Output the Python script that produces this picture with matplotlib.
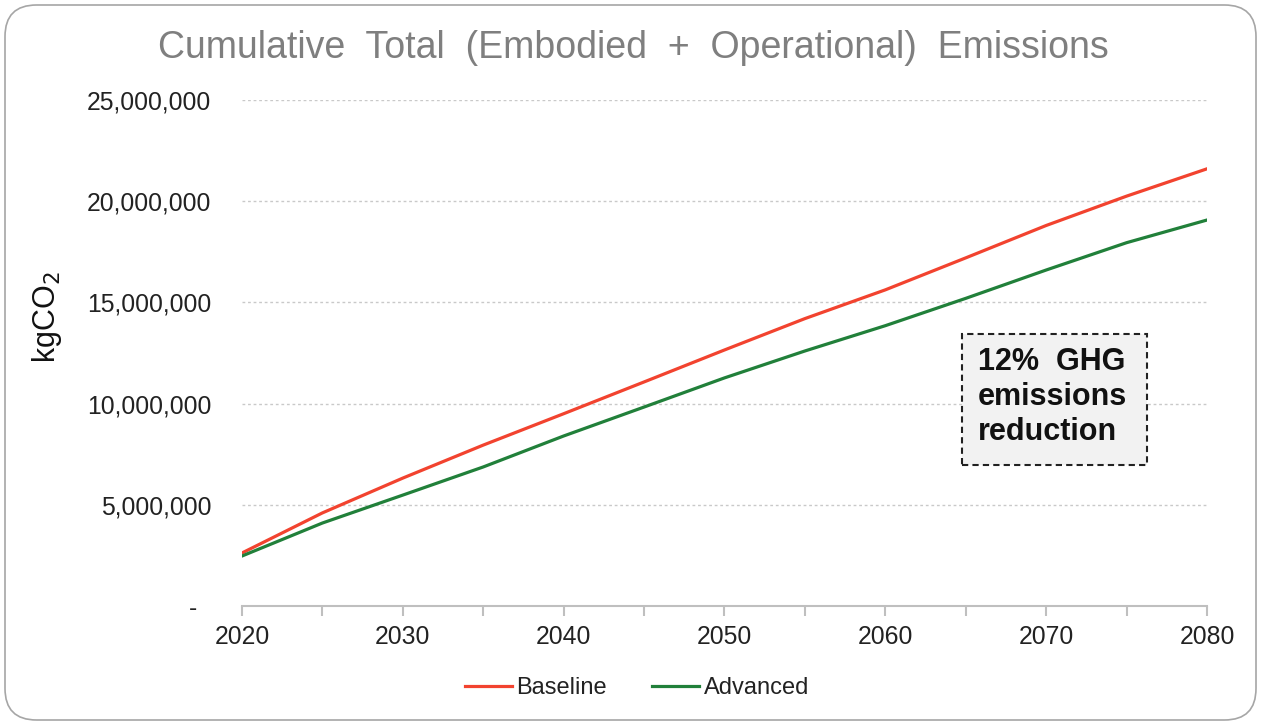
import matplotlib
matplotlib.use("Agg")
import matplotlib.pyplot as plt
from matplotlib.patches import FancyBboxPatch, Rectangle
from matplotlib.ticker import FuncFormatter, MultipleLocator

plt.rcParams['font.family'] = ['Liberation Sans', 'DejaVu Sans']

years = [2020, 2025, 2030, 2035, 2040, 2045, 2050, 2055, 2060, 2065, 2070, 2075, 2080]
baseline = [2.62e6, 4.60e6, 6.32e6, 7.95e6, 9.50e6, 11.07e6, 12.65e6, 14.20e6,
            15.62e6, 17.20e6, 18.80e6, 20.25e6, 21.60e6]
advanced = [2.47e6, 4.10e6, 5.48e6, 6.87e6, 8.40e6, 9.83e6, 11.27e6, 12.60e6,
            13.85e6, 15.20e6, 16.60e6, 17.95e6, 19.07e6]
series_names = ["Baseline", "Advanced"]
title = "Cumulative  Total  (Embodied  +  Operational)  Emissions"
note = "12%  GHG\nemissions\nreduction"

W, H = 1261, 724
fig = plt.figure(figsize=(W / 100, H / 100), dpi=100)
fig.patch.set_facecolor('white')

border = FancyBboxPatch((5 / W, 4 / H), (W - 10) / W, (H - 9) / H,
                        boxstyle="round,pad=0,rounding_size=0.025",
                        transform=fig.transFigure, facecolor='none',
                        edgecolor='#a6a6a6', linewidth=1.2, zorder=-5,
                        mutation_aspect=W / H)
fig.patches.append(border)

ax = fig.add_axes([242 / W, 118 / H, 965 / W, 506 / H])
ax.set_facecolor('none')

ax.plot(years, baseline, color='#f2432f', lw=2.3, label=series_names[0], zorder=3)
ax.plot(years, advanced, color='#21803a', lw=2.3, label=series_names[1], zorder=3)

ax.set_xlim(2020, 2080)
ax.set_ylim(0, 25e6)
ax.yaxis.set_major_locator(MultipleLocator(5e6))
ax.xaxis.set_major_locator(MultipleLocator(10))
ax.xaxis.set_minor_locator(MultipleLocator(5))

def yfmt(v, pos):
    if v == 0:
        return "-  "
    return f"{int(v):,}"

ax.yaxis.set_major_formatter(FuncFormatter(yfmt))
ax.grid(axis='y', color='#c9c9c9', linestyle=(0, (2, 2)), linewidth=1.0, zorder=1)
for s in ['top', 'right', 'left']:
    ax.spines[s].set_visible(False)
ax.spines['bottom'].set_color('#bfbfbf')
ax.spines['bottom'].set_linewidth(1.5)
ax.tick_params(axis='y', length=0, pad=22, labelsize=17.8, labelcolor='#222222')
ax.tick_params(axis='x', which='both', length=7.5, width=1.5, color='#bfbfbf',
               direction='out', pad=6, labelsize=17.8, labelcolor='#222222')

ax.set_ylabel("kgCO$_2$", fontsize=22, color='#111111')
ax.yaxis.set_label_coords(-0.1845, 0.57)

fig.text(633 / W, 1 - 48 / H, title, ha='center', va='center',
         fontsize=27, color='#7f7f7f')

box = Rectangle((0.746, 0.279), 0.192, 0.259, transform=ax.transAxes,
                facecolor='#f2f2f2', edgecolor='#222222', linestyle=(0, (3, 2)),
                linewidth=1.5, zorder=4)
ax.add_patch(box)
ax.text(0.7627, 0.413, note, transform=ax.transAxes, ha='left', va='center',
        fontsize=22, fontweight='bold', color='#111111', linespacing=1.2,
        zorder=5)

fig.legend(loc='center', bbox_to_anchor=(637 / W, 1 - 688 / H), ncol=2,
           frameon=False, fontsize=17, handlelength=2.0, handletextpad=0.2,
           columnspacing=1.9, labelcolor='#222222')

fig.savefig("out.png", dpi=100, facecolor='white')
